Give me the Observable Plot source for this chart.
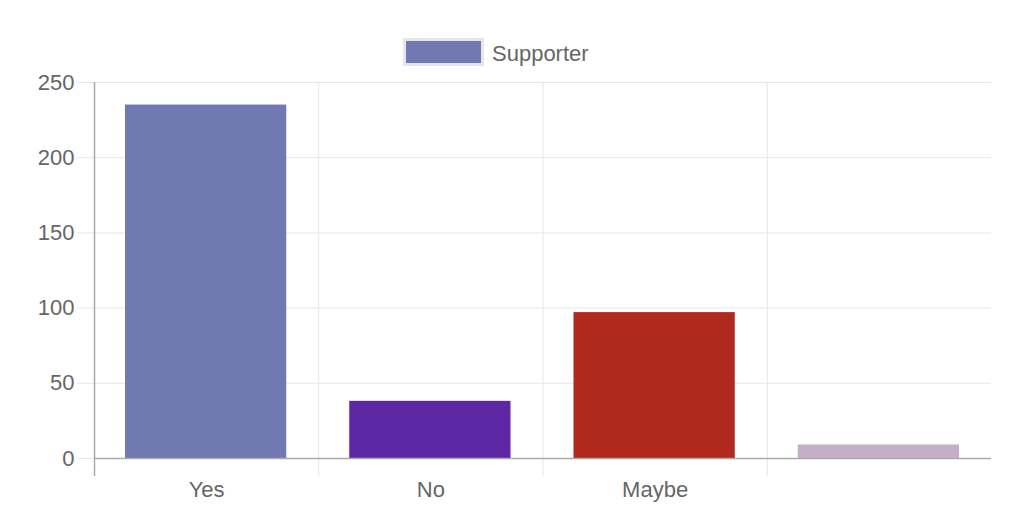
<!DOCTYPE html>
<html>
<head>
<meta charset="utf-8">
<script src="https://cdn.jsdelivr.net/npm/d3@7"></script>
<script src="https://cdn.jsdelivr.net/npm/@observablehq/plot@0.6"></script>
<style>
  html, body { margin: 0; padding: 0; background: #fff; }
  body { width: 1024px; height: 505px; overflow: hidden; font-family: "Liberation Sans", Arial, Helvetica, sans-serif; }
  #legend { position: relative; height: 72px; }
  #legend .box { position: absolute; left: 403px; top: 38px; width: 75px; height: 22px; border: 3px solid #e6e6e6; }
  #legend .lbl { position: absolute; left: 492px; top: 42px; font-size: 22px; color: #666; line-height: 24px; }
  #chart svg { display: block; overflow: visible; }
</style>
</head>
<body>
<div id="legend"><div class="box"></div><div class="lbl"></div></div>
<div id="chart"></div>
<script>
const seriesName = "Supporter";
const categories = ["Yes", "No", "Maybe", ""];
const values = [235, 38, 97, 9];
const colors = ["#7079B1", "#5E27A3", "#B0291C", "#C4AFC7"];
const yTicks = [0, 50, 100, 150, 200, 250];

document.querySelector("#legend .box").style.background = colors[0];
document.querySelector("#legend .lbl").textContent = seriesName;

const rows = categories.map((c, i) => ({i, category: c, value: values[i], color: colors[i]}));
const edges = d3.range(categories.length);
const centers = categories.map((c, i) => i + 0.5);

const chart = Plot.plot({
  width: 1024,
  height: 433,
  marginTop: 10,
  marginBottom: 47,
  marginLeft: 94,
  marginRight: 33,
  style: {fontFamily: '"Liberation Sans", Arial, Helvetica, sans-serif', fontSize: "22px", color: "#666", background: "#fff"},
  x: {domain: [0, categories.length], axis: null},
  y: {domain: [0, 250], axis: null},
  color: {type: "identity"},
  marks: [
    Plot.gridY(yTicks, {stroke: "#e6e6e6", strokeOpacity: 1}),
    Plot.gridX(edges.slice(1), {stroke: "#e6e6e6", strokeOpacity: 1}),
    Plot.axisY(yTicks, {tickSize: 17, tickPadding: 3, stroke: "#e6e6e6", fill: "#666", fontSize: 22, label: null}),
    Plot.axisX(edges.slice(1), {tickSize: 18, stroke: "#e6e6e6", tickFormat: () => "", label: null}),
    Plot.axisX([0], {tickSize: 18, stroke: "#aaa", strokeWidth: 1.5, tickFormat: () => "", label: null}),
    Plot.axisX(centers, {tickSize: 0, tickPadding: 23, fill: "#666", fontSize: 22, tickFormat: d => categories[Math.floor(d)], label: null}),
    Plot.rectY(rows, {x1: "i", x2: d => d.i + 1, y: "value", fill: "color", insetLeft: 31, insetRight: 32}),
    Plot.ruleY([0], {stroke: "#aaa", strokeWidth: 1.5}),
    Plot.ruleX([0], {y1: 0, y2: 250, stroke: "#aaa", strokeWidth: 1.5})
  ]
});
document.getElementById("chart").append(chart);
</script>
</body>
</html>
